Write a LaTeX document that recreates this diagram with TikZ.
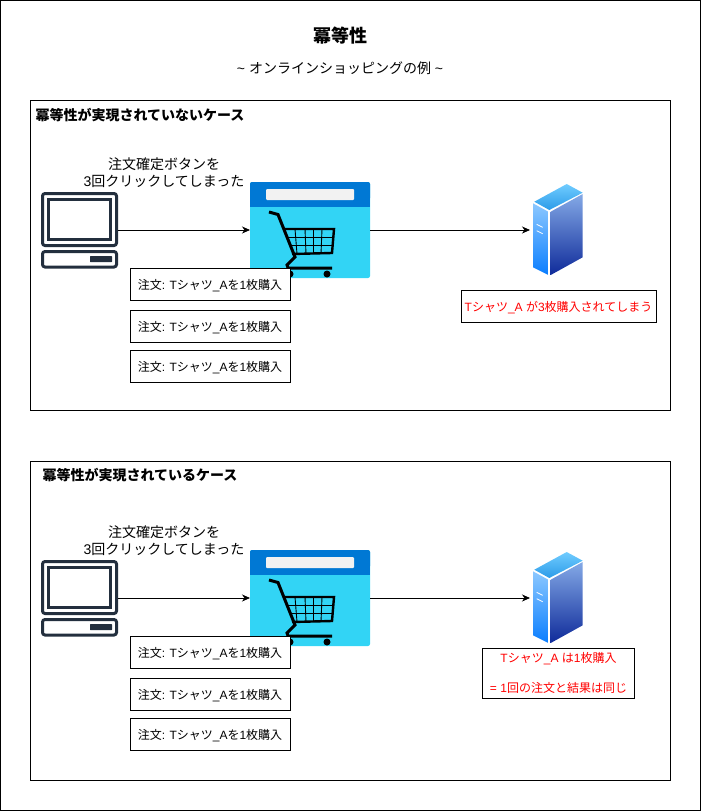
\documentclass[tikz,border=0pt]{standalone}
\usepackage{fontspec}
\setmainfont{Liberation Sans}
\newfontfamily\cjk{Noto Sans CJK JP}
\usetikzlibrary{arrows.meta}

\definecolor{pcdark}{HTML}{232F3E}
\definecolor{storeblue}{HTML}{0078D4}
\definecolor{storecyan}{HTML}{32D4F5}
\definecolor{storebar}{HTML}{F2F2F2}
\definecolor{srvtopa}{HTML}{70CCFF}
\definecolor{srvtopb}{HTML}{2C9BE8}
\definecolor{srvlefta}{HTML}{8CC8FF}
\definecolor{srvleftb}{HTML}{0A7EFF}
\definecolor{srvrighta}{HTML}{84A9E6}
\definecolor{srvrightb}{HTML}{0F2B9A}

\newcommand{\orderlabel}{{\cjk 注文}: T{\cjk シャツ}\_A{\cjk を}1{\cjk 枚購入}}
\newcommand{\clicklabel}{{\cjk 注文確定ボタンを}\\3{\cjk 回クリックしてしまった}}

\tikzset{
  anchorbox/.style={minimum height=76pt, inner sep=0pt, outer sep=0pt},
  orderbox/.style={draw, fill=white, line width=1pt, minimum width=160pt, minimum height=32pt, inner sep=0pt, text depth=0pt, font=\fontsize{12}{14}\selectfont},
  resultbox/.style={draw, fill=white, line width=1pt, text=red, inner sep=0pt, align=center, font=\fontsize{12}{14}\selectfont},
  clicktext/.style={align=center, font=\fontsize{14}{17}\selectfont},
  headtext/.style={anchor=west, font=\fontsize{14}{16}\selectfont\bfseries},
  flow/.style={-{Stealth[length=8pt,width=7pt,inset=2.5pt]}, line width=0.8pt},
  pcicon/.pic={
    \draw [pcdark, line width=3pt, rounded corners=2.5pt] (-37,-36.5) rectangle (37,15.5);
    \draw [pcdark, line width=3pt] (-31,-30.5) rectangle (31,9.5);
    \draw [pcdark, line width=3pt, rounded corners=2.5pt] (-37,21.5) rectangle (37,37);
    \fill [pcdark, rounded corners=0.5pt] (10.5,26) rectangle (32.5,32);
  },
  carticon/.pic={
    \fill [storecyan, rounded corners=2pt] (-60,-48) rectangle (60,48);
    \fill [storeblue, rounded corners=2pt] (-60,-48) rectangle (60,-30);
    \fill [storeblue] (-60,-35) rectangle (60,-23);
    \fill [storebar, rounded corners=1pt] (-44,-41) rectangle (44,-30);
    \draw [line width=3pt] (-41,-18) -- (-32,-15.5) -- (-15,27) -- (-23,35) -- (-22,38) -- (22,38);
    \draw [line width=2.4pt] (-27,-1) -- (24,-1) -- (22,23) -- (-18,24);
    \draw [line width=0.9pt] (-23,7) -- (23.3,7);
    \draw [line width=0.9pt] (-20,15) -- (22.7,15);
    \draw [line width=0.9pt] (-15,-1) -- (-13,24);
    \draw [line width=0.9pt] (-5,-1) -- (-4,24);
    \draw [line width=0.9pt] (3,-1) -- (3,24);
    \draw [line width=0.9pt] (12,-1) -- (11,24);
    \fill (-20,44) circle (3.5pt);
    \fill (17,44) circle (3.5pt);
  },
  servericon/.pic={
    \shade [top color=srvtopa, bottom color=srvtopb] (9.2,-46) -- (25.2,-37.3) -- (-8.2,-20) -- (-23.2,-28.3) -- cycle;
    \shade [top color=srvlefta, bottom color=srvleftb] (-24.5,-26.7) -- (-9.2,-18.3) -- (-9.2,45) -- (-24.5,37.3) -- cycle;
    \shade [top color=srvrighta, bottom color=srvrightb] (-6.8,-18.3) -- (25.2,-36) -- (25.2,27.3) -- (-6.8,45) -- cycle;
    \draw [white, line width=0.8pt] (-20.8,-5.7) -- (-14.8,-2.7);
    \draw [white, line width=0.8pt] (-20.8,0.7) -- (-14.8,3.7);
  }
}

\begin{document}
\begin{tikzpicture}[x=1pt, y=-1pt]
  \useasboundingbox (0,0) rectangle (701,811);
  \draw [line width=1pt] (0.5,0.5) rectangle (700.5,810.5);

  \node (title) at (340,36) {\fontsize{18}{20}\selectfont\cjk\bfseries 冪等性};
  \node (subtitle) at (340,68) {\fontsize{14}{16}\selectfont\textasciitilde\ {\cjk オンラインショッピングの例} \textasciitilde};

  % first case
  \draw [line width=1pt] (30,100) rectangle (670,410);
  \node [headtext] (headA) at (32,115) {\cjk 冪等性が実現されていないケース};
  \node [clicktext] (clickA) at (164,173) {\clicklabel};

  \pic at (79.5,230) {pcicon};
  \pic at (310,230) {carticon};
  \pic at (557.5,230) {servericon};
  \node [anchorbox, minimum width=77pt] (pcA) at (79.5,230) {};
  \node [anchorbox, minimum width=120pt] (storeA) at (310,230) {};
  \node [anchorbox, minimum width=55pt] (serverA) at (557.5,230) {};

  \node [orderbox] (orderA1) at (210,284.5) {\orderlabel};
  \node [orderbox] (orderA2) at (210,326) {\orderlabel};
  \node [orderbox] (orderA3) at (210,366) {\orderlabel};
  \node [resultbox, minimum width=195pt, minimum height=32pt, text depth=0pt] (resultA) at (558.5,306.5) {T{\cjk シャツ}\_A {\cjk が}3{\cjk 枚購入されてしまう}};

  \draw [flow] (pcA) -- (storeA);
  \draw [flow] (storeA) -- (serverA);

  % second case
  \draw [line width=1pt] (30,461) rectangle (670,780);
  \node [headtext] (headB) at (39,475) {\cjk 冪等性が実現されているケース};
  \node [clicktext] (clickB) at (164,541) {\clicklabel};

  \pic at (79.5,598) {pcicon};
  \pic at (310,598) {carticon};
  \pic at (557.5,598) {servericon};
  \node [anchorbox, minimum width=77pt] (pcB) at (79.5,598) {};
  \node [anchorbox, minimum width=120pt] (storeB) at (310,598) {};
  \node [anchorbox, minimum width=55pt] (serverB) at (557.5,598) {};

  \node [orderbox] (orderB1) at (210,652.5) {\orderlabel};
  \node [orderbox] (orderB2) at (210,694) {\orderlabel};
  \node [orderbox] (orderB3) at (210,734) {\orderlabel};
  \node [resultbox, minimum width=152pt, minimum height=50pt, font=\fontsize{12}{30}\selectfont] (resultB) at (558.5,673) {T{\cjk シャツ}\_A {\cjk は}1{\cjk 枚購入}\\= 1{\cjk 回の注文と結果は同じ}};

  \draw [flow] (pcB) -- (storeB);
  \draw [flow] (storeB) -- (serverB);
\end{tikzpicture}
\end{document}
